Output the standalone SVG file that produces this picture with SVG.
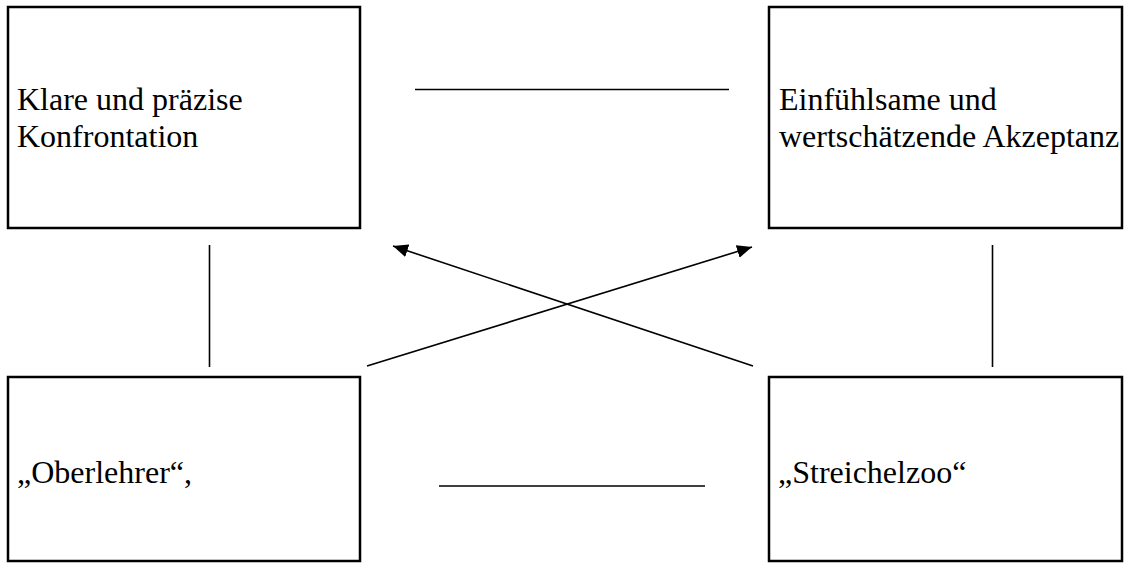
<svg xmlns="http://www.w3.org/2000/svg" width="1130" height="563" viewBox="0 0 1130 563">
<style>
.box{fill:#fff;stroke:#000;stroke-width:2.5}
.lbl{font-family:"Liberation Serif","Times New Roman",serif;font-size:32px;fill:#000}
.con{stroke:#000;stroke-width:1.6;fill:none}
</style>
<defs>
<marker id="ah" markerUnits="userSpaceOnUse" markerWidth="16" markerHeight="14" refX="15" refY="6.5" orient="auto">
<path d="M0,0 L15,6.5 L0,13 Z" fill="#000"/>
</marker>
</defs>
<rect width="1130" height="563" fill="#fff"/>
<g id="node-klare">
<rect class="box" x="8" y="7" width="352" height="221"/>
<text class="lbl" x="17" y="110">Klare und präzise</text>
<text class="lbl" x="17" y="147">Konfrontation</text>
</g>
<g id="node-einfuehlsam">
<rect class="box" x="769" y="7" width="353" height="221"/>
<text class="lbl" x="779" y="110">Einfühlsame und</text>
<text class="lbl" x="779" y="147">wertschätzende Akzeptanz</text>
</g>
<g id="node-oberlehrer">
<rect class="box" x="8" y="377" width="352" height="184"/>
<text class="lbl" x="17" y="483">„Oberlehrer“,</text>
</g>
<g id="node-streichelzoo">
<rect class="box" x="769" y="377" width="353" height="184"/>
<text class="lbl" x="778" y="483">„Streichelzoo“</text>
</g>
<g id="connectors">
<line class="con" x1="415" y1="89.5" x2="729" y2="89.5"/>
<line class="con" x1="439" y1="486" x2="705" y2="486"/>
<line class="con" x1="209.5" y1="245" x2="209.5" y2="367"/>
<line class="con" x1="992.5" y1="245" x2="992.5" y2="367"/>
<line class="con" x1="367" y1="366" x2="752" y2="247" marker-end="url(#ah)"/>
<line class="con" x1="753" y1="366" x2="393" y2="246" marker-end="url(#ah)"/>
</g>
</svg>
